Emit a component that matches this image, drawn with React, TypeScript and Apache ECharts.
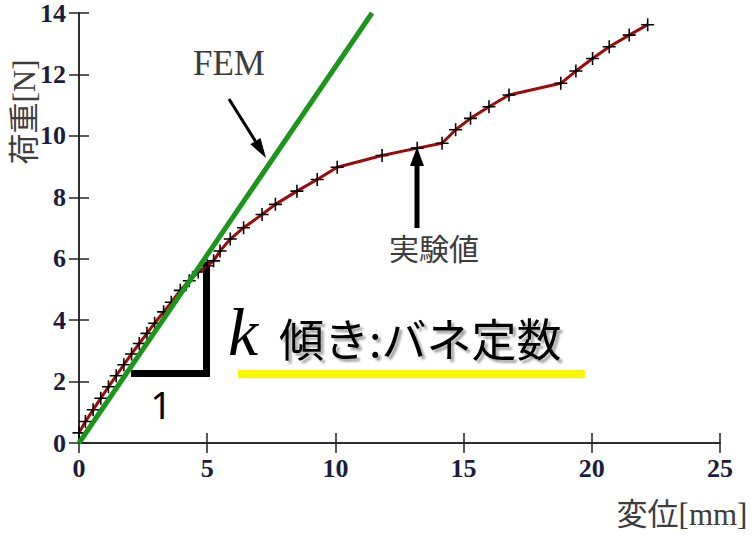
import React, { useEffect, useRef } from "react";
import * as echarts from "echarts";

// Experimental (実験値) load–displacement data
const expX = [0, 0.25, 0.55, 0.85, 1.15, 1.45, 1.75, 2.05, 2.35, 2.65, 2.95, 3.3, 3.6, 3.95, 4.3, 4.65, 5.0, 5.25, 5.5, 5.9, 6.42, 7.14, 7.66, 8.5, 9.29, 10.07, 11.82, 13.19, 14.16, 14.69, 15.27, 15.99, 16.77, 18.79, 19.38, 20.03, 20.68, 21.46, 22.18];
const expY = [0.33, 0.7, 1.08, 1.46, 1.83, 2.19, 2.55, 2.9, 3.24, 3.57, 3.9, 4.27, 4.58, 4.97, 5.28, 5.57, 5.77, 5.93, 6.25, 6.64, 7.01, 7.44, 7.77, 8.2, 8.58, 8.98, 9.36, 9.6, 9.76, 10.2, 10.57, 10.95, 11.33, 11.71, 12.11, 12.52, 12.9, 13.28, 13.62];

// FEM straight line
const femX = [0, 11.43];
const femY = [0, 14];

const xTicks = [0, 5, 10, 15, 20, 25];
const yTicks = [0, 2, 4, 6, 8, 10, 12, 14];

const PLUS = "path://M4.4,0H5.6V4.4H10V5.6H5.6V10H4.4V5.6H0V4.4H4.4Z";

export default function App() {
  const ref = useRef<HTMLDivElement>(null);
  useEffect(() => {
    if (!ref.current) return;
    const chart = echarts.init(ref.current, null, { renderer: "svg" });
    const labelStyle = {
      fontFamily: "Liberation Serif",
      fontWeight: "bold" as const,
      fontSize: 26,
      color: "#1c1c3e",
    };
    const axisLine = { show: true, lineStyle: { color: "#222", width: 1.5 } };
    const axisTick = { show: true, inside: true, length: 10, lineStyle: { color: "#222", width: 1.5 } };
    chart.setOption({
      animation: false,
      grid: { left: 79, right: 33, top: 11, bottom: 93 },
      xAxis: [
        {
          type: "value", min: xTicks[0], max: xTicks[xTicks.length - 1], interval: 5,
          axisLine, axisTick, splitLine: { show: false },
          axisLabel: { ...labelStyle, margin: 12 },
        },
        {
          type: "value", position: "top", min: 0, max: 25, interval: 5,
          axisLine, axisTick, splitLine: { show: false }, axisLabel: { show: false },
        },
      ],
      yAxis: [
        {
          type: "value", min: yTicks[0], max: yTicks[yTicks.length - 1], interval: 2,
          axisLine, axisTick, splitLine: { show: false },
          axisLabel: { ...labelStyle, margin: 13 },
        },
        {
          type: "value", position: "right", min: 0, max: 14, interval: 2,
          axisLine, axisTick, splitLine: { show: false }, axisLabel: { show: false },
        },
      ],
      series: [
        {
          type: "line",
          data: expX.map((x, i) => [x, expY[i]]),
          lineStyle: { color: "#9e0a0a", width: 3 },
          symbol: PLUS,
          symbolSize: 13,
          showAllSymbol: true,
          itemStyle: { color: "#000" },
          z: 3,
        },
        {
          type: "line",
          data: femX.map((x, i) => [x, femY[i]]),
          lineStyle: { color: "#1a961a", width: 5 },
          symbol: "none",
          z: 4,
        },
      ],
      graphic: [
        { type: "text", x: 24, y: 112, rotation: Math.PI / 2,
          style: { text: "荷重[N]", font: "31px 'Liberation Serif', 'Noto Sans CJK JP'", fill: "#3c3c3c", align: "center", verticalAlign: "middle" } },
        { type: "text", x: 682, y: 514,
          style: { text: "変位[mm]", font: "31px 'Liberation Serif', 'Noto Sans CJK JP'", fill: "#3c3c3c", align: "center", verticalAlign: "middle" } },
        { type: "text", x: 229, y: 63,
          style: { text: "FEM", font: "35px 'Liberation Serif'", fill: "#3c3c3c", align: "center", verticalAlign: "middle" } },
        { type: "line", shape: { x1: 229, y1: 99, x2: 255.4, y2: 141.1 }, style: { stroke: "#000", lineWidth: 3 } },
        { type: "polygon", shape: { points: [[250.3, 144.3], [260.5, 137.9], [266, 158]] }, style: { fill: "#000" } },
        { type: "text", x: 434, y: 247,
          style: { text: "実験値", font: "30px 'Noto Sans CJK JP'", fill: "#3c3c3c", align: "center", verticalAlign: "middle" } },
        { type: "line", shape: { x1: 417, y1: 228, x2: 417, y2: 162 }, style: { stroke: "#000", lineWidth: 5 } },
        { type: "polygon", shape: { points: [[410, 166], [424, 166], [417, 147]] }, style: { fill: "#000" } },
        { type: "line", shape: { x1: 131, y1: 373.5, x2: 210, y2: 373.5 }, style: { stroke: "#000", lineWidth: 7 } },
        { type: "line", shape: { x1: 206.5, y1: 262, x2: 206.5, y2: 377 }, style: { stroke: "#000", lineWidth: 7 } },
        { type: "text", x: 161, y: 404,
          style: { text: "1", font: "38px 'Noto Sans'", fill: "#000", align: "center", verticalAlign: "middle" } },
        { type: "text", x: 243, y: 332,
          style: { text: "k", font: "italic 68px 'Liberation Serif'", fill: "#000", align: "center", verticalAlign: "middle" } },
        { type: "text", x: 279, y: 337,
          style: { text: "傾き:バネ定数", font: "45px 'Noto Sans CJK JP'", fill: "#000", align: "left", verticalAlign: "middle",
            textShadowColor: "rgba(0,0,0,0.35)", textShadowBlur: 2, textShadowOffsetX: 3, textShadowOffsetY: 3 } },
        { type: "rect", shape: { x: 238, y: 370, width: 347, height: 8 }, style: { fill: "#f7f700" } },
      ],
    });
    return () => chart.dispose();
  }, []);
  return <div ref={ref} style={{ position: "fixed", left: 0, top: 0, width: 753, height: 536, background: "#fff" }} />;
}
